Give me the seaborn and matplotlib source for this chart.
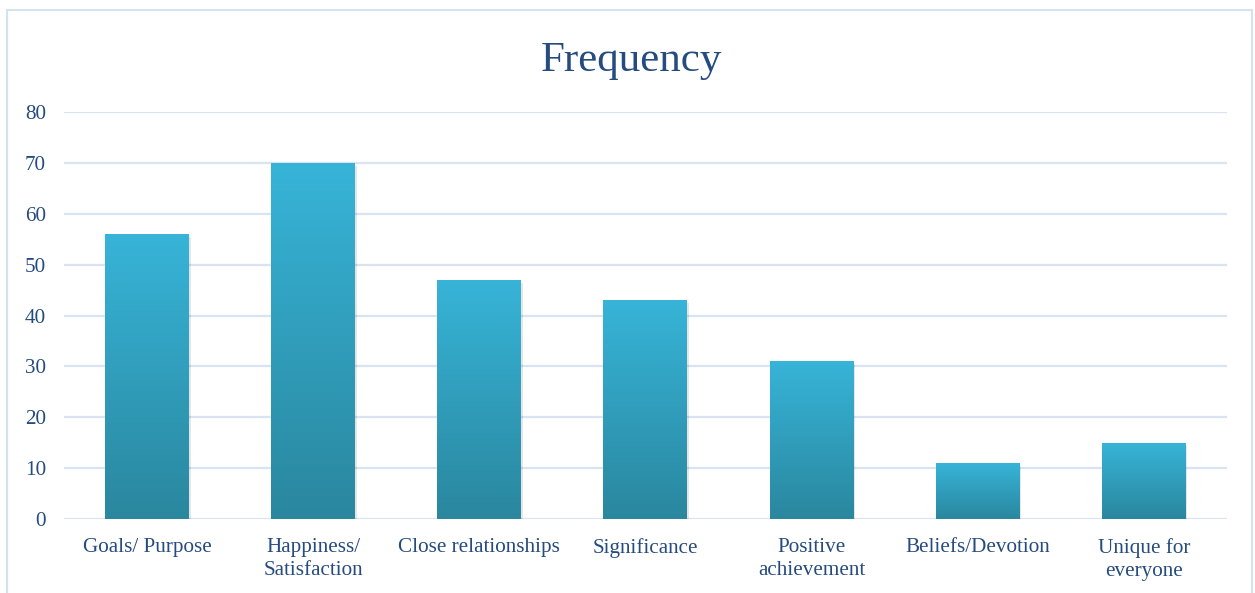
import numpy as np
import pandas as pd
import matplotlib
matplotlib.use("Agg")
import matplotlib.pyplot as plt
import matplotlib.colors as mcolors
from matplotlib.patches import Rectangle
import seaborn as sns

categories = ["Goals/ Purpose", "Happiness/\nSatisfaction", "Close relationships",
              "Significance", "Positive\nachievement", "Beliefs/Devotion", "Unique for\neveryone"]
values = [56, 70, 47, 43, 31, 11, 15]
yticks = [0, 10, 20, 30, 40, 50, 60, 70, 80]
title = "Frequency"

sns.set_theme(style="white")
plt.rcParams["font.family"] = ["Liberation Serif", "DejaVu Serif"]

text_color = "#254B7F"
grid_color = "#D9E3F1"
top_color = "#37B4D8"
bottom_color = "#2A879E"

fig = plt.figure(figsize=(12.55, 5.93), dpi=100)
ax = fig.add_axes([0.051, 0.1248, 0.9266, 0.6863])

df = pd.DataFrame({"cat": categories, "val": values})
sns.barplot(data=df, x="cat", y="val", ax=ax, color=top_color, width=0.505,
            saturation=1, edgecolor="none", zorder=3)

ax.set_ylim(0, 80)
ax.set_xlim(-0.5, len(categories) - 0.5)
ax.set_yticks(yticks)
ax.set_yticklabels([str(t) for t in yticks])
ax.grid(axis="y", color=grid_color, linewidth=1.6, zorder=0)
ax.set_axisbelow(True)
for s in ax.spines.values():
    s.set_visible(False)
ax.set_xlabel("")
ax.set_ylabel("")
ax.tick_params(axis="both", length=0, colors=text_color, labelsize=15.2)
ax.tick_params(axis="y", pad=13)
ax.tick_params(axis="x", pad=13.5)
for lab in ax.get_xticklabels():
    lab.set_linespacing(1.32)

# gradient fill + soft shadow
cmap = mcolors.LinearSegmentedColormap.from_list("g", [bottom_color, top_color])
grad = np.linspace(0, 1, 256).reshape(-1, 1)
for p in list(ax.patches):
    x0, y0 = p.get_x(), p.get_y()
    w, h = p.get_width(), p.get_height()
    sh = Rectangle((x0 + 0.01, y0 - 0.6), w, h, facecolor="#000000", alpha=0.10,
                   edgecolor="none", zorder=2)
    ax.add_patch(sh)
    im = ax.imshow(grad, extent=[x0, x0 + w, y0, y0 + h], origin="lower",
                   cmap=cmap, aspect="auto", zorder=3.5)
    im.set_clip_path(p)
ax.set_xlim(-0.5, len(categories) - 0.5)
ax.set_ylim(0, 80)

fig.text(0.503, 0.898, title, ha="center", va="center", fontsize=31, color=text_color)

# outer chart border
border = Rectangle((7 / 1255, -0.05), 1245 / 1255, 1 - 10 / 593 + 0.05,
                   transform=fig.transFigure, fill=False, edgecolor="#D5E2F0",
                   linewidth=1.5, zorder=0)
fig.patches.append(border)

fig.savefig("out.png", dpi=100)
